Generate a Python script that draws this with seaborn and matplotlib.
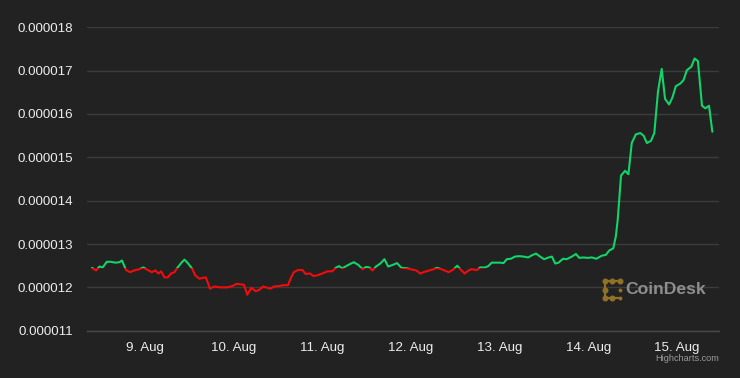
import numpy as np
import pandas as pd
import matplotlib
matplotlib.use("Agg")
import matplotlib.pyplot as plt
import matplotlib.dates as mdates
from matplotlib.patches import Rectangle
from matplotlib.lines import Line2D
import seaborn as sns

# ---------------- data ----------------
base_time = "2023-08-09 00:00"
hours_from_base = [-14.2, -13.1, -12.2, -11.3, -10.2, -9.1, -7.9, -6.8, -6.1, -5.0,
                   -3.9, -2.8, -1.4, -0.3, 0.9, 2.0, 2.9, 3.8, 4.5, 5.4,
                   6.3, 7.2, 8.1, 8.7, 9.9, 10.8, 11.7, 12.9, 13.7, 14.8,
                   15.9, 16.6, 17.7, 18.9, 20.4, 22.4, 23.8, 24.9, 26.9, 27.8,
                   28.9, 30.1, 31.0, 32.1, 33.2, 34.1, 35.0, 36.4, 37.6, 38.8,
                   39.6, 40.4, 41.5, 42.7, 43.6, 44.8, 45.7, 46.8, 48.1, 49.5,
                   50.8, 51.7, 52.6, 53.5, 55.4, 56.6, 57.8, 59.0, 59.9, 60.8,
                   61.7, 62.6, 63.8, 64.9, 65.9, 67.2, 68.3, 69.5, 71.0, 72.4,
                   73.5, 74.6, 75.8, 77.1, 78.2, 79.1, 80.3, 81.4, 82.3, 83.5,
                   84.6, 85.4, 86.6, 87.5, 88.4, 89.9, 90.8, 92.1, 93.0, 93.9,
                   95.1, 96.2, 97.1, 98.0, 99.1, 100.2, 101.4, 102.5, 103.8, 104.8,
                   105.9, 107.0, 108.1, 109.3, 110.2, 111.1, 112.0, 113.2, 114.2, 115.6,
                   116.7, 117.6, 118.7, 119.8, 121.0, 122.2, 123.7, 124.8, 125.7, 126.8,
                   127.5, 128.0, 128.9, 130.0, 130.9, 131.8, 132.9, 134.1, 135.0, 135.9,
                   137.0, 137.9, 138.9, 139.9, 140.8, 141.9, 142.8, 143.7, 144.9, 145.8,
                   146.7, 147.9, 148.8, 149.7, 150.8, 151.7, 152.7, 153.6]
price_micro = [12.45, 12.39, 12.48, 12.46, 12.59, 12.59, 12.57, 12.58, 12.62, 12.40,
               12.35, 12.39, 12.42, 12.46, 12.40, 12.35, 12.39, 12.32, 12.37, 12.23,
               12.23, 12.32, 12.35, 12.43, 12.56, 12.64, 12.56, 12.43, 12.28, 12.20,
               12.22, 12.23, 11.97, 12.02, 12.00, 12.00, 12.03, 12.08, 12.06, 11.83,
               11.99, 11.91, 11.94, 12.02, 11.99, 11.97, 12.02, 12.03, 12.05, 12.05,
               12.22, 12.35, 12.40, 12.40, 12.31, 12.32, 12.26, 12.28, 12.32, 12.37,
               12.37, 12.45, 12.49, 12.44, 12.53, 12.58, 12.52, 12.42, 12.47, 12.46,
               12.39, 12.48, 12.55, 12.65, 12.48, 12.52, 12.56, 12.45, 12.44, 12.41,
               12.39, 12.32, 12.36, 12.39, 12.42, 12.45, 12.42, 12.38, 12.35, 12.41,
               12.50, 12.42, 12.32, 12.38, 12.42, 12.40, 12.46, 12.46, 12.49, 12.57,
               12.57, 12.57, 12.56, 12.65, 12.66, 12.71, 12.72, 12.71, 12.69, 12.74,
               12.78, 12.71, 12.65, 12.69, 12.71, 12.55, 12.57, 12.66, 12.65, 12.71,
               12.77, 12.68, 12.69, 12.68, 12.69, 12.66, 12.73, 12.75, 12.85, 12.90,
               13.18, 13.56, 14.58, 14.69, 14.61, 15.33, 15.53, 15.56, 15.50, 15.33,
               15.38, 15.56, 16.52, 17.04, 16.35, 16.22, 16.38, 16.64, 16.70, 16.78,
               17.01, 17.09, 17.28, 17.22, 16.19, 16.13, 16.19, 15.59]
threshold = 0.000012445
y_ticks = [0.000011, 0.000012, 0.000013, 0.000014, 0.000015, 0.000016, 0.000017, 0.000018]
y_tick_labels = ["0.000011", "0.000012", "0.000013", "0.000014", "0.000015",
                 "0.000016", "0.000017", "0.000018"]
x_tick_dates = ["2023-08-09", "2023-08-10", "2023-08-11", "2023-08-12",
                "2023-08-13", "2023-08-14", "2023-08-15"]
x_tick_labels = ["9. Aug", "10. Aug", "11. Aug", "12. Aug", "13. Aug", "14. Aug", "15. Aug"]
x_range_hours = [-15.64, 155.4]

# ---------------- style ----------------
BG = "#222222"
GRID = "#3c3c3c"
GREEN = "#12d468"
RED = "#f20c0c"
TXT = "#ececec"

sns.set_theme(style="dark")
plt.rcParams["font.family"] = ["Liberation Sans", "DejaVu Sans"]

base = pd.Timestamp(base_time)
df = pd.DataFrame({
    "time": base + pd.to_timedelta(hours_from_base, unit="h"),
    "price": np.array(price_micro) * 1e-6,
})

W, H = 740, 378
fig = plt.figure(figsize=(W / 100, H / 100), dpi=100, facecolor=BG)
ax = fig.add_axes([86.7 / W, (H - 330.7) / H, (719 - 86.7) / W, (330.7 - 27.3) / H])
ax.set_facecolor(BG)

sns.lineplot(data=df, x="time", y="price", color=GREEN, lw=1.5, ax=ax)
green_line = ax.lines[-1]
sns.lineplot(data=df, x="time", y="price", color=RED, lw=1.5, ax=ax)
red_line = ax.lines[-1]

x0 = mdates.date2num(base + pd.Timedelta(hours=x_range_hours[0]))
x1 = mdates.date2num(base + pd.Timedelta(hours=x_range_hours[1]))
ax.set_xlim(x0, x1)
ax.set_ylim(y_ticks[0], y_ticks[-1])

big = 1.0
green_clip = Rectangle((x0 - 10, threshold), (x1 - x0) + 20, big, transform=ax.transData)
red_clip = Rectangle((x0 - 10, threshold - big), (x1 - x0) + 20, big, transform=ax.transData)
green_line.set_clip_path(green_clip)
red_line.set_clip_path(red_clip)

ax.set_yticks(y_ticks)
ax.set_yticklabels(y_tick_labels)
ax.set_xticks(mdates.date2num(pd.to_datetime(x_tick_dates)))
ax.set_xticklabels(x_tick_labels)
ax.tick_params(axis="y", length=0, pad=10, labelsize=9.6, labelcolor=TXT)
ax.tick_params(axis="x", length=0, pad=8, labelsize=9.6, labelcolor=TXT)
ax.set_xlabel("")
ax.set_ylabel("")
ax.grid(axis="y", color=GRID, lw=1.0)
ax.grid(axis="x", visible=False)
for s in ["top", "right", "left"]:
    ax.spines[s].set_visible(False)
ax.spines["bottom"].set_color("#4a4a4a")
ax.spines["bottom"].set_linewidth(1.0)
ax.set_axisbelow(True)

# ---------------- watermark / credits ----------------
def fp(x, y):
    return (x / W, (H - y) / H)

GOLD = "#8f7226"
lx, mx, rx = 605.0, 612.0, 619.5
ty, my, by = 280.5, 289.5, 298.0
pts = [fp(a, b) for a, b in zip([rx, lx, lx, rx], [ty, ty, by, by])]
fig.add_artist(Line2D([p[0] for p in pts], [p[1] for p in pts],
                      transform=fig.transFigure, color=GOLD, lw=1.6))
big_dots = [(lx, ty), (mx, ty), (rx, ty), (lx, my), (lx, by), (mx, by)]
small_dots = [(rx, my), (rx, by)]
for (a, b) in big_dots:
    p = fp(a, b)
    fig.add_artist(Line2D([p[0]], [p[1]], transform=fig.transFigure, marker="o",
                          ms=3.3, color=GOLD, lw=0))
for (a, b) in small_dots:
    p = fp(a, b)
    fig.add_artist(Line2D([p[0]], [p[1]], transform=fig.transFigure, marker="o",
                          ms=1.8, color=GOLD, lw=0))
p = fp(625.5, 289.5)
fig.text(p[0], p[1], "CoinDesk", color="#8e8e8e", fontsize=12.6, fontweight="bold",
         ha="left", va="center")
p = fp(719, 358.5)
fig.text(p[0], p[1], "Highcharts.com", color="#9a9a9a", fontsize=6.6,
         ha="right", va="center")

fig.savefig("out.png", dpi=100, facecolor=BG)
